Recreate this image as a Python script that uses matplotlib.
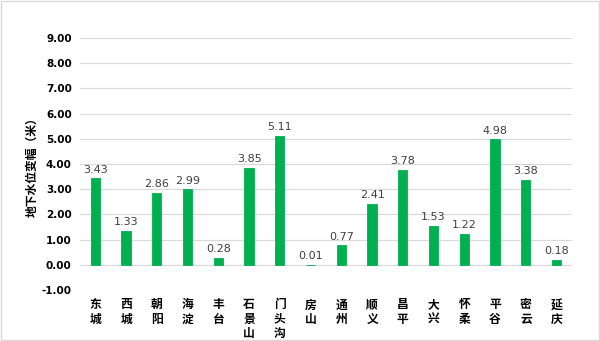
import matplotlib
matplotlib.use("Agg")
from matplotlib import pyplot as plt
from matplotlib.patches import Rectangle

districts = ["东城", "西城", "朝阳", "海淀", "丰台", "石景山", "门头沟", "房山",
             "通州", "顺义", "昌平", "大兴", "怀柔", "平谷", "密云", "延庆"]
changes = [3.43, 1.33, 2.86, 2.99, 0.28, 3.85, 5.11, 0.01,
           0.77, 2.41, 3.78, 1.53, 1.22, 4.98, 3.38, 0.18]
yticks = [-1, 0, 1, 2, 3, 4, 5, 6, 7, 8, 9]

plt.rcParams['font.family'] = ['Noto Sans CJK SC', 'DejaVu Sans']

fig = plt.figure(figsize=(6, 3.41), dpi=100)
ax = fig.add_axes([0.1333, 0.1496, 0.82, 0.739])

pos = list(range(len(districts)))
bars = ax.bar(pos, changes, width=0.3, color="#00B050",
              edgecolor="#00B050", linewidth=0.6, zorder=3)
for x, v in zip(pos, changes):
    ax.text(x, v + 0.15, f"{v:.2f}", ha="center", va="bottom",
            fontsize=8, color="#404040", family="DejaVu Sans")

ax.set_xlim(-0.5, len(districts) - 0.5)
ax.set_ylim(-1, 9)
ax.set_yticks(yticks)
ax.set_yticklabels([f"{t:.2f}" for t in yticks], fontsize=7.5,
                   fontweight="bold", family="DejaVu Sans")
ax.yaxis.grid(True, color="#d9d9d9", linewidth=0.8, zorder=0)
ax.set_xticks(pos)
ax.set_xticklabels(["\n".join(d) for d in districts], fontsize=8.5,
                   fontweight="bold", linespacing=1.15, va="top")
ax.tick_params(axis="both", length=0, pad=6)
for s in ax.spines.values():
    s.set_visible(False)
ax.set_ylabel("地下水位变幅（米）", fontsize=8.5, fontweight="bold", labelpad=2)

fig.patches.append(Rectangle((0.002, 0.003), 0.996, 0.994, transform=fig.transFigure,
                             fill=False, edgecolor="#d9d9d9", linewidth=1))
fig.savefig("out.png", dpi=100)
